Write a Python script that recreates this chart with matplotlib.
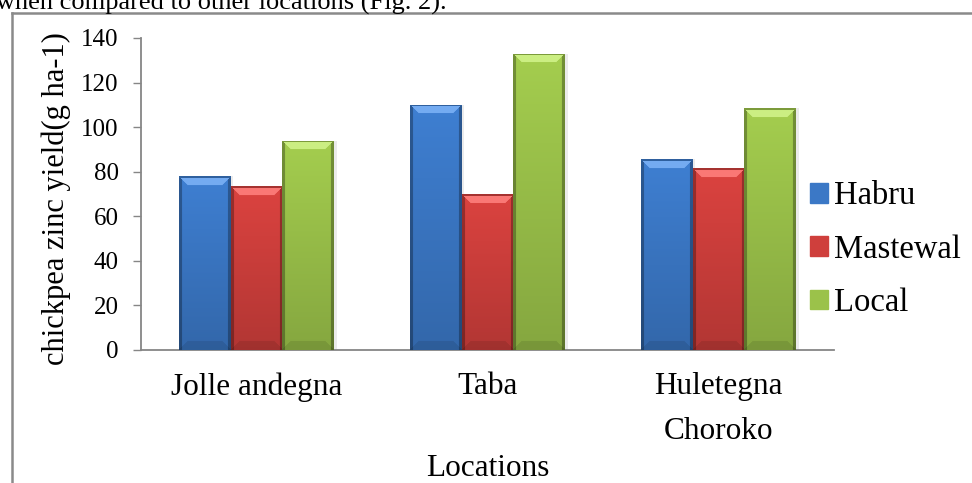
import matplotlib
matplotlib.use("Agg")
import matplotlib.pyplot as plt
import numpy as np
from matplotlib.lines import Line2D
from matplotlib.patches import Patch
from matplotlib.colors import to_rgb

# data
locations = ["Jolle andegna", "Taba", "Huletegna\nChoroko"]
habru = [78, 110, 85.5]
mastewal = [73.5, 70, 81.5]
local = [94, 133, 108.5]
series_names = ["Habru", "Mastewal", "Local"]
series_colors = ["#3b78c6", "#cf3f3c", "#9bc24a"]

plt.rcParams["font.family"] = ["Liberation Serif", "DejaVu Serif"]

W, H, DPI = 972, 483, 100
fig = plt.figure(figsize=(W / DPI, H / DPI), dpi=DPI)
ax = fig.add_axes([141 / W, 1 - 350 / H, (834 - 141) / W, (350 - 38) / H])


def bevel_image(base, wpx, hpx, b=9):
    """Excel-2007 style bevelled bar fill as an RGBA array."""
    base = np.array(to_rgb(base))
    hpx = max(int(hpx), 2)
    wpx = max(int(wpx), 2)
    i = np.arange(hpx)[:, None] * np.ones((1, wpx))
    j = np.ones((hpx, 1)) * np.arange(wpx)[None, :]
    dl, dr = j, wpx - 1 - j
    dt, db = i, hpx - 1 - i
    side = np.minimum(dl, dr)
    fac = 1.06 - 0.2 * i / hpx
    img = base[None, None, :] * fac[..., None]
    edge = side < 2.5
    img[edge] *= 0.7
    top = (dt < b) & (dt <= side)
    img[top] = np.clip(base * 1.2, 0, 1) * 0.75 + 0.25
    topline = dt < 1.5
    img[topline] = base * 0.8
    bot = (db < b) & (db <= side)
    img[bot] *= 0.9
    img = np.clip(img, 0, 1)
    alpha = np.ones((hpx, wpx, 1))
    return np.concatenate([img, alpha], axis=2)


x = np.arange(len(locations))
w = 0.225
values = [habru, mastewal, local]
px_per_x = (834 - 141) / 3.0
px_per_y = (350 - 38) / 140.0
for k, (vals, col) in enumerate(zip(values, series_colors)):
    pos = x + (k - 1) * w
    bars = ax.bar(pos, vals, width=w, color=col, zorder=2)
    for rect in bars:
        bx, by = rect.get_x(), rect.get_y()
        bw, bh = rect.get_width(), rect.get_height()
        # soft shadow to the right
        ax.bar(bx + bw / 2 + 0.012, bh, width=bw, bottom=0, color="#000000",
               alpha=0.08, zorder=1.5)
        img = bevel_image(col, bw * px_per_x, bh * px_per_y)
        im = ax.imshow(img, extent=(bx, bx + bw, by, by + bh), aspect="auto",
                       zorder=3, interpolation="bilinear")
        im.set_clip_path(rect)

ax.set_xlim(-0.5, 2.5)
ax.set_ylim(0, 140)
ax.set_yticks(np.arange(0, 141, 20))
ax.set_xticks(x)
ax.set_xticklabels(locations, fontsize=22.5, linespacing=1.7)
ax.tick_params(axis="x", length=0, pad=16)
ax.tick_params(axis="y", length=6, width=1, color="#868686", labelsize=18, pad=10)
for s in ["top", "right"]:
    ax.spines[s].set_visible(False)
for s in ["left", "bottom"]:
    ax.spines[s].set_color("#868686")
    ax.spines[s].set_linewidth(1.3)

ax.set_ylabel("chickpea zinc yield(g ha-1)", fontsize=22)
ax.yaxis.set_label_coords(-0.101, 0.485)
ax.set_xlabel("Locations", fontsize=22.5, labelpad=6)

handles = [Patch(facecolor=c, edgecolor=c) for c in series_colors]
ax.legend(handles, series_names, loc="center left", bbox_to_anchor=(0.965, 0.322),
          frameon=False, fontsize=23.5, handlelength=0.55, handleheight=0.55,
          handletextpad=0.2, labelspacing=0.7, borderaxespad=0, borderpad=0)

# page border and clipped caption text
fig.add_artist(Line2D([11.5 / W, 11.5 / W], [0, 1 - 13 / H], transform=fig.transFigure,
                      color="#8a8a8a", lw=1.8))
fig.add_artist(Line2D([11.5 / W, 1.0], [1 - 13 / H, 1 - 13 / H], transform=fig.transFigure,
                      color="#8a8a8a", lw=1.8))
fig.text(-0.004, 1 - 10 / H, "when compared to other locations (Fig. 2).",
         fontsize=19, va="baseline", ha="left")

fig.savefig("out.png", dpi=DPI)
